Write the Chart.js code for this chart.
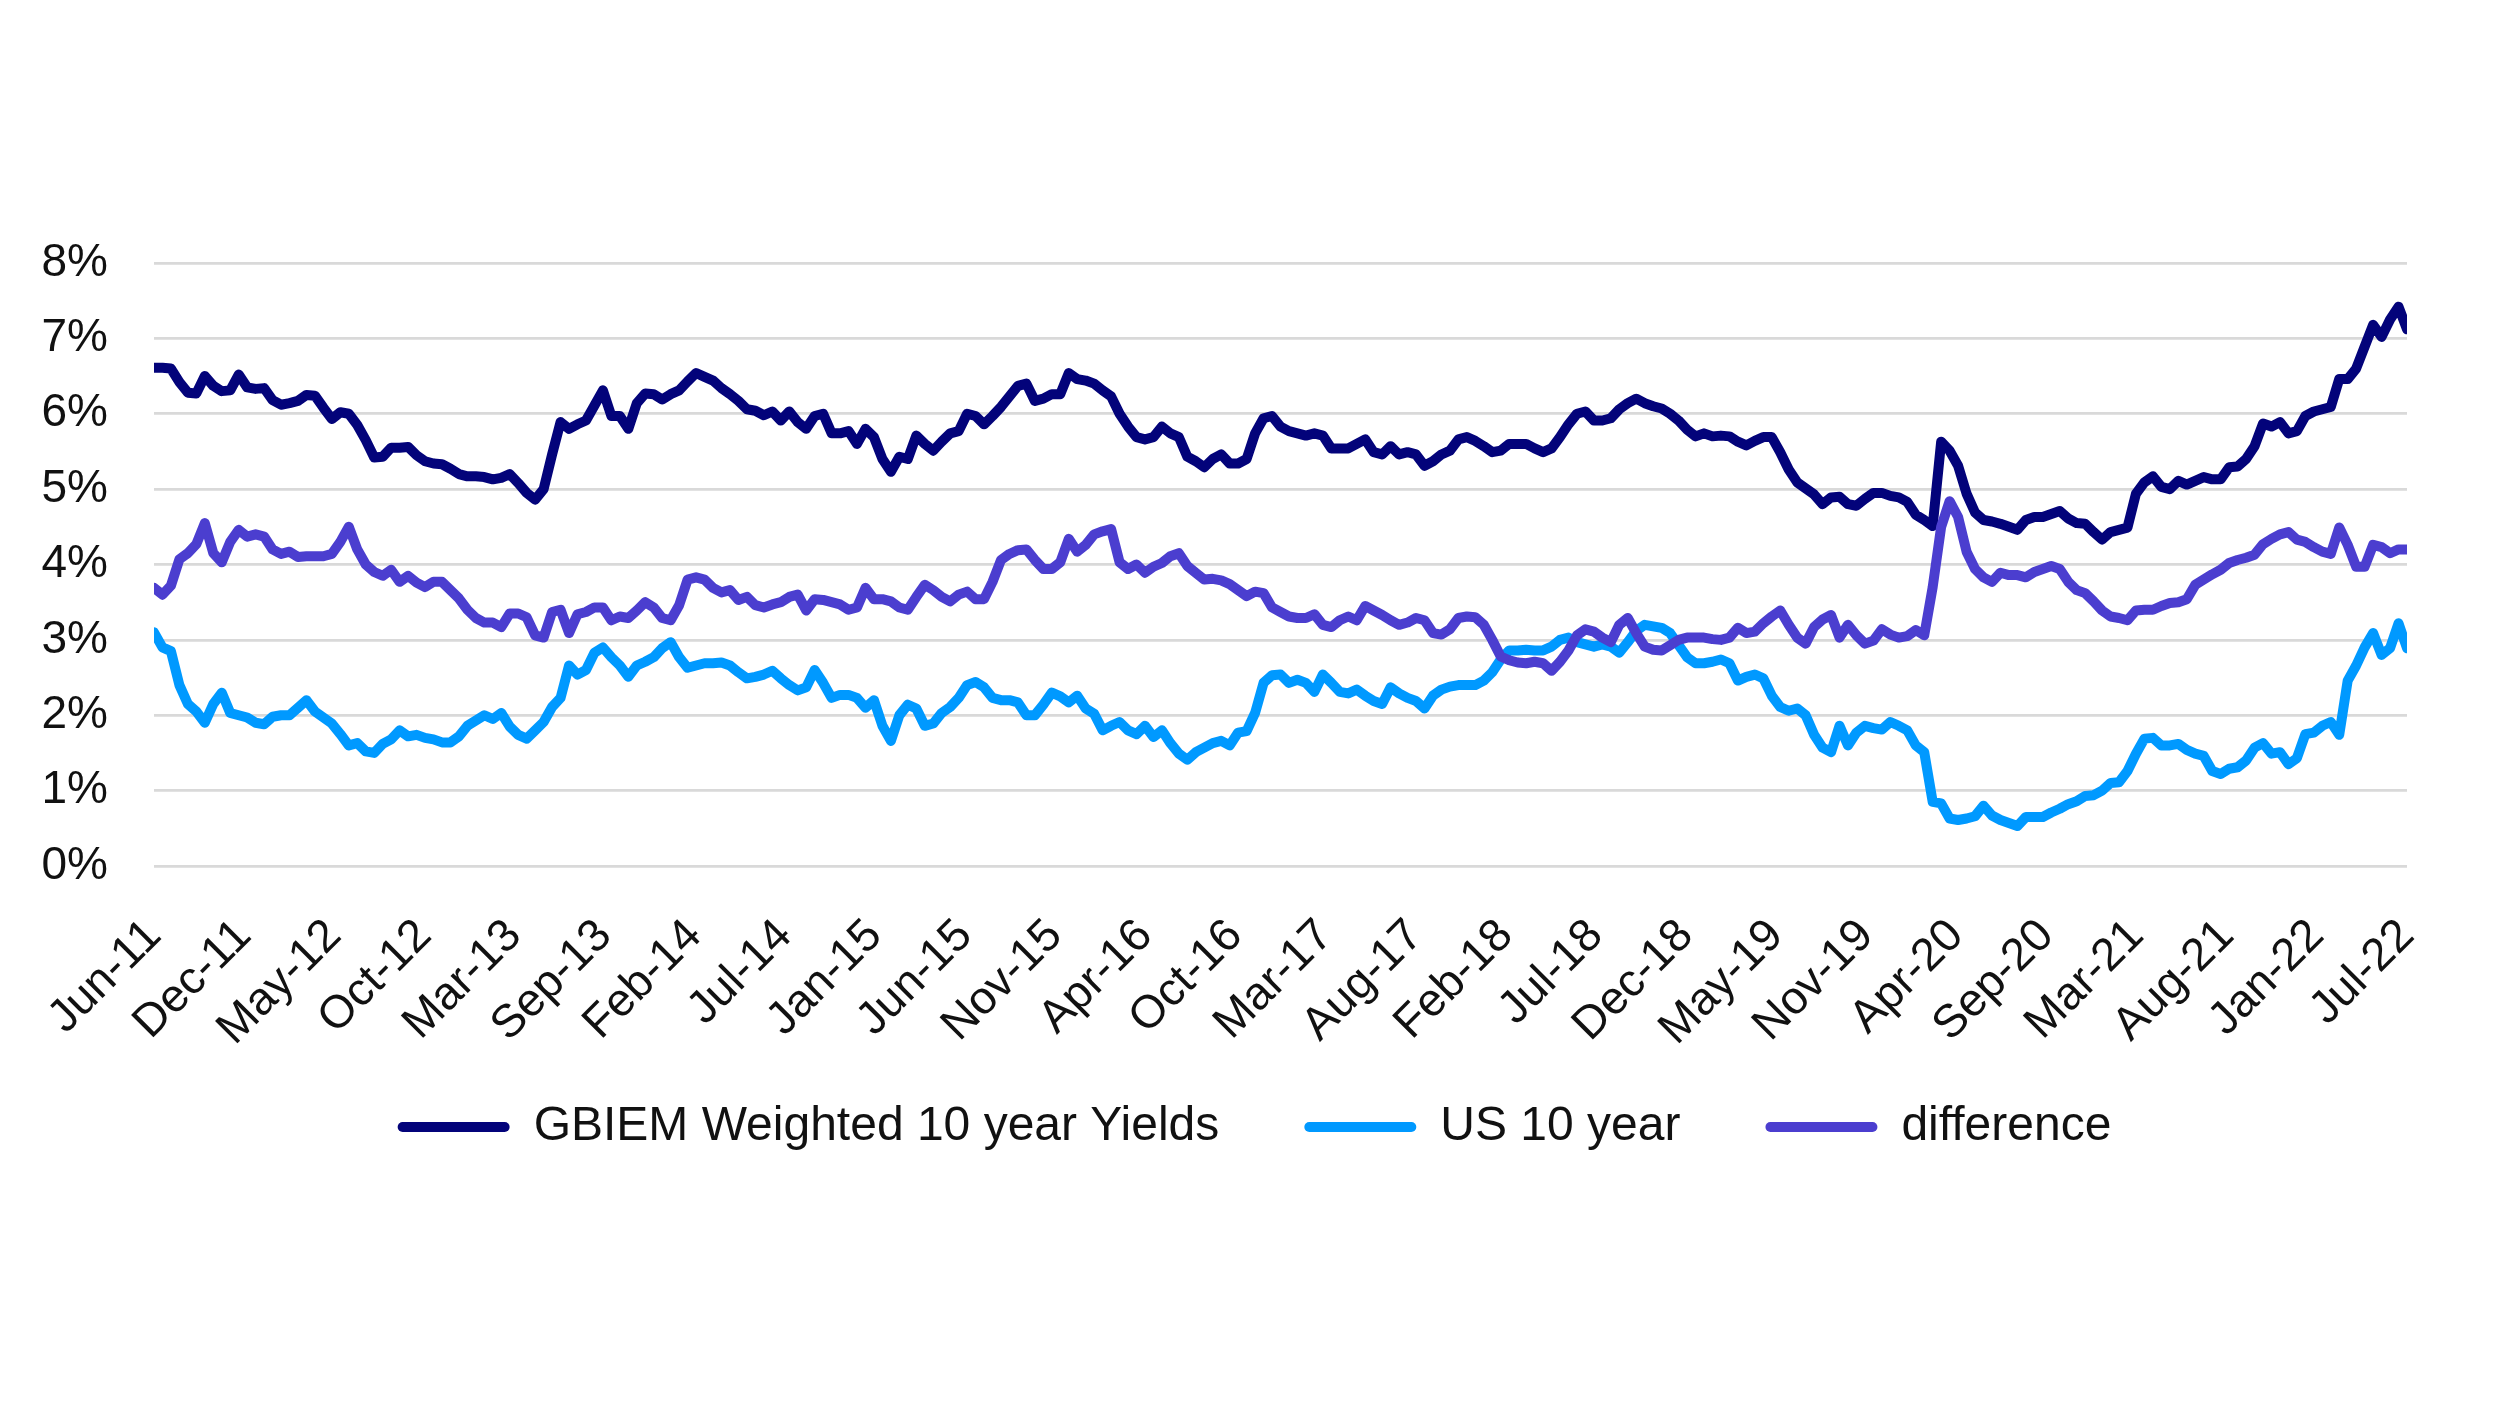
<!DOCTYPE html>
<html><head><meta charset="utf-8">
<script src="https://cdn.jsdelivr.net/npm/chart.js@4.4.1/dist/chart.umd.min.js"></script>
<style>html,body{margin:0;padding:0;background:#fff;}canvas{display:block;}</style>
</head><body><canvas id="c" width="2496" height="1404"></canvas>
<script>
const tickLabels = ["Jun-11","Dec-11","May-12","Oct-12","Mar-13","Sep-13","Feb-14","Jul-14","Jan-15","Jun-15","Nov-15","Apr-16","Oct-16","Mar-17","Aug-17","Feb-18","Jul-18","Dec-18","May-19","Nov-19","Apr-20","Sep-20","Mar-21","Aug-21","Jan-22","Jul-22"];
const seriesNames = ["GBIEM Weighted 10 year Yields","US 10 year","difference"];
// half-monthly observations, Jun-11 .. Jul-22 (%)
const gbiem = [6.61,6.61,6.60,6.42,6.28,6.27,6.50,6.37,6.30,6.31,6.52,6.35,6.33,6.34,6.18,6.12,6.14,6.17,6.25,6.24,
6.08,5.93,6.02,6.00,5.85,5.65,5.42,5.43,5.55,5.55,5.56,5.45,5.37,5.34,5.33,5.27,5.20,5.17,5.17,5.16,
5.13,5.15,5.20,5.08,4.95,4.86,5.00,5.46,5.89,5.80,5.86,5.91,6.11,6.31,5.97,5.97,5.80,6.14,6.27,6.26,
6.19,6.26,6.31,6.43,6.54,6.49,6.44,6.34,6.26,6.17,6.06,6.04,5.98,6.03,5.91,6.03,5.89,5.80,5.97,6.00,
5.74,5.74,5.77,5.60,5.80,5.69,5.40,5.23,5.43,5.40,5.71,5.60,5.51,5.63,5.74,5.77,6.00,5.97,5.86,5.97,
6.09,6.23,6.37,6.40,6.17,6.20,6.26,6.26,6.54,6.46,6.44,6.40,6.31,6.23,6.00,5.83,5.69,5.66,5.69,5.83,
5.74,5.69,5.43,5.37,5.29,5.40,5.46,5.34,5.34,5.40,5.74,5.94,5.97,5.83,5.77,5.74,5.71,5.74,5.71,5.54,
5.54,5.54,5.60,5.66,5.49,5.46,5.57,5.46,5.49,5.46,5.31,5.37,5.46,5.51,5.66,5.69,5.64,5.57,5.49,5.51,
5.60,5.60,5.60,5.54,5.49,5.54,5.69,5.86,6.00,6.03,5.91,5.91,5.94,6.06,6.14,6.20,6.14,6.10,6.07,6.00,
5.91,5.79,5.70,5.74,5.70,5.71,5.70,5.63,5.58,5.64,5.69,5.69,5.49,5.26,5.09,5.01,4.93,4.80,4.89,4.90,
4.80,4.78,4.87,4.95,4.95,4.91,4.89,4.83,4.66,4.59,4.51,5.63,5.51,5.31,4.94,4.69,4.59,4.57,4.54,4.50,
4.46,4.59,4.63,4.63,4.67,4.71,4.61,4.55,4.54,4.43,4.33,4.43,4.46,4.49,4.94,5.09,5.17,5.03,5.00,5.11,
5.06,5.11,5.16,5.13,5.13,5.29,5.30,5.40,5.57,5.87,5.83,5.89,5.74,5.77,5.97,6.03,6.06,6.09,6.46,6.46,
6.60,6.89,7.18,7.02,7.25,7.42,7.12];
const us10 = [3.10,2.90,2.85,2.40,2.15,2.05,1.90,2.15,2.30,2.03,2.00,1.97,1.90,1.88,1.98,2.00,2.00,2.10,2.20,2.05,
1.97,1.89,1.75,1.60,1.63,1.52,1.50,1.62,1.68,1.80,1.72,1.74,1.70,1.68,1.64,1.64,1.72,1.86,1.93,2.00,
1.95,2.03,1.85,1.74,1.69,1.80,1.91,2.11,2.23,2.66,2.54,2.60,2.83,2.90,2.77,2.66,2.51,2.66,2.71,2.77,
2.89,2.97,2.77,2.63,2.66,2.69,2.69,2.70,2.66,2.57,2.49,2.51,2.54,2.59,2.49,2.40,2.33,2.37,2.60,2.43,
2.23,2.27,2.27,2.23,2.10,2.20,1.86,1.66,2.00,2.14,2.09,1.86,1.89,2.03,2.11,2.23,2.40,2.44,2.37,2.23,
2.20,2.20,2.17,2.00,2.00,2.14,2.30,2.25,2.17,2.26,2.09,2.02,1.80,1.86,1.91,1.80,1.75,1.86,1.71,1.80,
1.63,1.49,1.41,1.51,1.57,1.63,1.66,1.60,1.77,1.79,2.03,2.43,2.53,2.54,2.43,2.47,2.43,2.31,2.54,2.43,
2.31,2.29,2.34,2.26,2.19,2.15,2.37,2.29,2.23,2.19,2.09,2.26,2.34,2.38,2.40,2.40,2.40,2.46,2.57,2.74,
2.86,2.86,2.87,2.86,2.86,2.91,3.00,3.03,2.97,2.94,2.91,2.94,2.91,2.83,2.97,3.12,3.20,3.18,3.16,3.09,
2.93,2.77,2.69,2.69,2.71,2.74,2.69,2.46,2.51,2.54,2.49,2.26,2.11,2.06,2.09,2.00,1.74,1.57,1.51,1.86,
1.60,1.77,1.86,1.83,1.81,1.91,1.86,1.80,1.60,1.51,0.85,0.83,0.63,0.61,0.63,0.66,0.80,0.67,0.61,0.57,
0.53,0.65,0.65,0.65,0.71,0.76,0.82,0.86,0.93,0.94,1.00,1.10,1.11,1.26,1.49,1.69,1.70,1.60,1.60,1.62,
1.54,1.49,1.46,1.26,1.22,1.29,1.31,1.40,1.57,1.63,1.49,1.51,1.35,1.43,1.75,1.77,1.86,1.91,1.74,2.46,
2.66,2.90,3.09,2.80,2.89,3.22,2.89];
const difference = [3.69,3.60,3.72,4.07,4.15,4.27,4.55,4.15,4.03,4.30,4.46,4.37,4.40,4.37,4.20,4.14,4.17,4.10,4.11,4.11,
4.11,4.14,4.30,4.50,4.20,4.00,3.90,3.85,3.93,3.77,3.85,3.76,3.70,3.77,3.77,3.66,3.55,3.40,3.29,3.23,
3.23,3.17,3.35,3.35,3.30,3.06,3.03,3.37,3.40,3.09,3.34,3.37,3.43,3.43,3.26,3.31,3.29,3.39,3.50,3.43,
3.29,3.26,3.46,3.80,3.83,3.80,3.69,3.63,3.66,3.53,3.57,3.46,3.43,3.47,3.50,3.57,3.60,3.39,3.54,3.53,
3.50,3.47,3.40,3.43,3.69,3.54,3.54,3.51,3.43,3.40,3.57,3.73,3.66,3.57,3.51,3.60,3.64,3.54,3.54,3.77,
4.06,4.14,4.19,4.20,4.06,3.94,3.94,4.03,4.34,4.17,4.26,4.40,4.44,4.47,4.03,3.94,4.00,3.89,3.97,4.02,
4.11,4.15,3.98,3.89,3.80,3.81,3.79,3.74,3.66,3.58,3.64,3.62,3.43,3.37,3.31,3.29,3.29,3.34,3.20,3.17,
3.26,3.31,3.26,3.45,3.39,3.33,3.26,3.20,3.23,3.29,3.26,3.09,3.07,3.14,3.29,3.31,3.30,3.20,3.00,2.78,
2.73,2.70,2.69,2.71,2.69,2.59,2.71,2.86,3.06,3.14,3.11,3.03,2.97,3.20,3.29,3.09,2.91,2.87,2.86,2.93,
3.00,3.03,3.03,3.03,3.01,3.00,3.03,3.16,3.09,3.11,3.22,3.31,3.39,3.20,3.03,2.95,3.17,3.27,3.33,3.03,
3.20,3.06,2.95,2.99,3.14,3.07,3.03,3.05,3.13,3.06,3.70,4.50,4.84,4.63,4.17,3.94,3.83,3.77,3.89,3.86,
3.86,3.83,3.90,3.94,3.98,3.94,3.77,3.66,3.62,3.51,3.39,3.31,3.29,3.26,3.39,3.40,3.40,3.45,3.49,3.50,
3.54,3.73,3.80,3.87,3.93,4.02,4.06,4.09,4.13,4.27,4.34,4.40,4.43,4.33,4.30,4.23,4.17,4.14,4.49,4.26,
3.97,3.97,4.26,4.23,4.15,4.20,4.20];

const STEP = 0.5;   // months between observations
const SPAN = (gbiem.length - 1) * STEP;
const colors = ['#03037A', '#0099FF', '#4B3ECF'];
const toPts = arr => arr.map((v, i) => ({x: i * STEP, y: v}));
const FONT = 'Liberation Sans, Arial, sans-serif';

// nudge the legend row so it sits where the original places it
const legendShift = {
  id: 'legendShift',
  afterLayout(chart) {
    const lg = chart.legend;
    if (lg) { lg.left += 31; lg.right += 31; lg.top -= 33; lg.bottom -= 33; }
  }
};

new Chart(document.getElementById('c').getContext('2d'), {
  type: 'line',
  data: {
    datasets: [
      {label: seriesNames[0], data: toPts(gbiem), borderColor: colors[0], backgroundColor: colors[0], order: 2},
      {label: seriesNames[1], data: toPts(us10), borderColor: colors[1], backgroundColor: colors[1], order: 1},
      {label: seriesNames[2], data: toPts(difference), borderColor: colors[2], backgroundColor: colors[2], order: 0}
    ]
  },
  plugins: [legendShift],
  options: {
    responsive: false, animation: false, devicePixelRatio: 1,
    layout: {padding: {left: 40, right: 89, top: 263, bottom: 210}},
    elements: {
      line: {borderWidth: 10, tension: 0, borderJoinStyle: 'round', borderCapStyle: 'round'},
      point: {radius: 0, hoverRadius: 0}
    },
    scales: {
      x: {
        type: 'linear', min: 0, max: SPAN,
        afterBuildTicks: s => { s.ticks = tickLabels.map((_, k) => ({value: k * SPAN / (tickLabels.length - 1)})); },
        afterFit: s => { s.height = 185; },
        ticks: {autoSkip: false, minRotation: 45, maxRotation: 45, padding: 43,
                callback: (v, i) => tickLabels[i], color: '#111', font: {family: FONT, size: 46}},
        grid: {display: false, drawTicks: false},
        border: {display: false}
      },
      y: {
        min: 0, max: 8,
        afterFit: s => { s.width = 114; },
        ticks: {stepSize: 1, padding: 46, callback: v => v + '%', color: '#111', font: {family: FONT, size: 46}},
        grid: {color: '#D9D9D9', lineWidth: 2.7, drawTicks: false},
        border: {display: false}
      }
    },
    plugins: {
      tooltip: {enabled: false},
      legend: {
        position: 'bottom',
        labels: {
          boxWidth: 112, boxHeight: 10, padding: 85, color: '#111',
          font: {family: FONT, size: 48},
          useBorderRadius: true, borderRadius: 5,
          sort: (a, b) => a.datasetIndex - b.datasetIndex,
          generateLabels: chart => Chart.defaults.plugins.legend.labels.generateLabels(chart).map(it => Object.assign(it, {lineWidth: 0, strokeStyle: 'rgba(0,0,0,0)'}))
        }
      }
    }
  }
});
</script></body></html>
